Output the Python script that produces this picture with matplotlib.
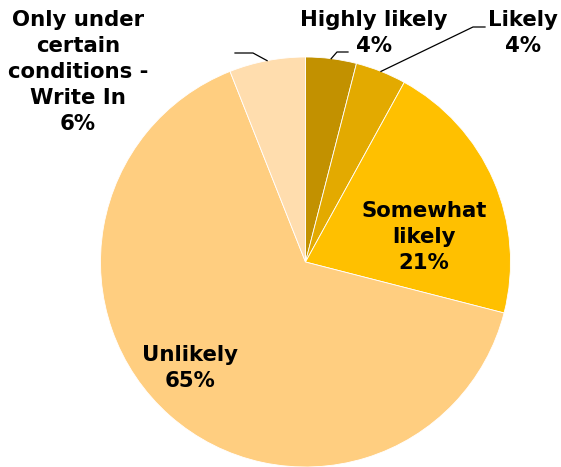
import numpy as np
import matplotlib
matplotlib.use("Agg")
import matplotlib.pyplot as plt

categories = ["Highly likely", "Likely", "Somewhat\nlikely", "Unlikely",
              "Only under\ncertain\nconditions -\nWrite In"]
values = [4, 4, 21, 65, 6]
colors = ["#C29100", "#E3AA00", "#FFC000", "#FFCE80", "#FFDDAE"]

W, H = 561, 467
fig = plt.figure(figsize=(W / 100, H / 100), dpi=100)
ax = fig.add_axes([0, 0, 1, 1])

cx, cy, r = 305.5, H - 262, 205
wedges, _ = ax.pie(values, colors=colors, startangle=90, counterclock=False,
                   center=(cx, cy), radius=r, frame=True,
                   wedgeprops=dict(edgecolor="white", linewidth=0.6))
ax.set_xlim(0, W)
ax.set_ylim(0, H)
ax.set_aspect("equal")
ax.axis("off")

font = dict(fontsize=15.3, fontweight="bold", family="DejaVu Sans",
            ha="center", va="center", color="black", linespacing=1.36)


def edge_point(w):
    ang = np.deg2rad((w.theta1 + w.theta2) / 2)
    return cx + r * np.cos(ang), cy + r * np.sin(ang)


def label(i, x, y):
    ax.text(x, H - y, f"{categories[i]}\n{values[i]}%", **font)


# Outside labels with leader lines
x0, y0 = edge_point(wedges[0])
ax.plot([x0, 337, 348], [y0, H - 52, H - 52], color="black", lw=0.9)
label(0, 374, 33)

x1, y1 = edge_point(wedges[1])
ax.plot([x1, 473, 485], [y1, H - 27, H - 27], color="black", lw=0.9)
label(1, 523, 33)

x4, y4 = edge_point(wedges[4])
ax.plot([x4, 253, 235], [y4, H - 53, H - 53], color="black", lw=0.9)
label(4, 78, 72)

# Inside labels
label(2, 424, 237)
label(3, 190, 368)

fig.savefig("out.png", dpi=100)
